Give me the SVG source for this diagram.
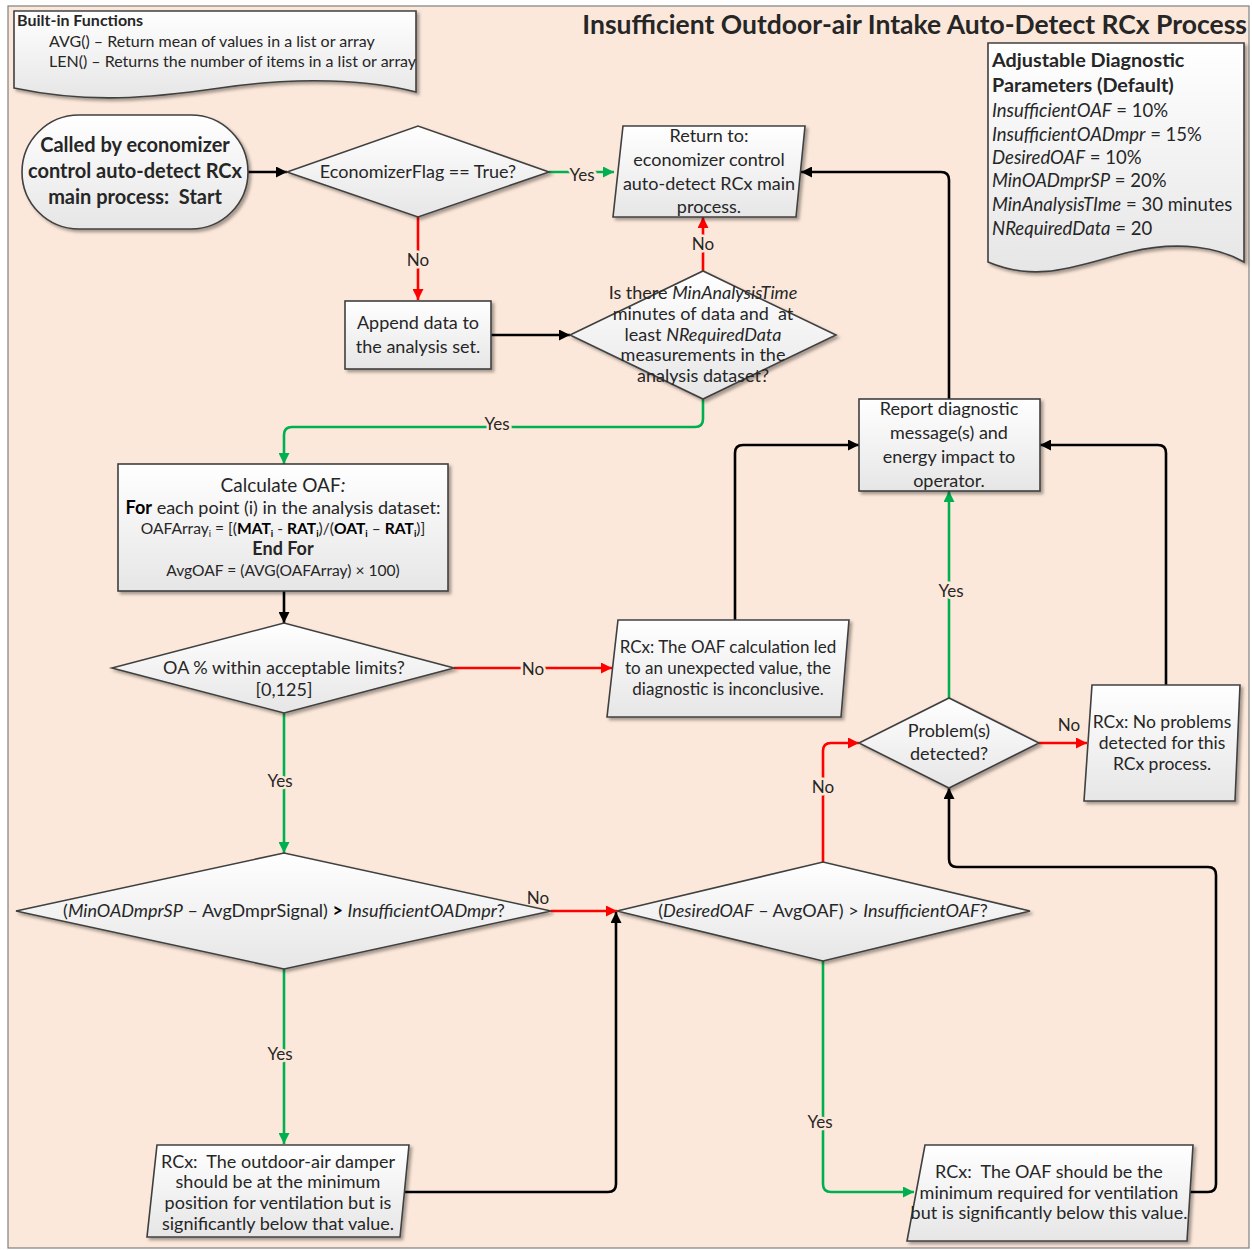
<svg xmlns="http://www.w3.org/2000/svg" width="1252" height="1250" viewBox="0 0 1252 1250">
  <style>
    text { font-family: Lato, "Open Sans", "Liberation Sans", sans-serif; fill: #262626; }
    .shape { fill: url(#shapeFill); stroke: #404040; stroke-width: 1.6; filter: url(#shadow); }
    .t { font-size: 18px; text-anchor: middle; }
    .b { font-weight: bold; }
    .i { font-style: italic; }
    .lbl { font-size: 17px; text-anchor: middle; paint-order: stroke; stroke: #FCE8DA; stroke-width: 5px; stroke-linejoin: round; }
    .c { fill: none; stroke-width: 2.6; stroke-linejoin: round; }
    .k { stroke: #000; marker-end: url(#arrK); }
    .r { stroke: #FF0000; marker-end: url(#arrR); }
    .g { stroke: #00B050; marker-end: url(#arrG); }
    .sub { font-size: 9.5px; }
  </style>
  <defs>
    <linearGradient id="shapeFill" x1="0" y1="0" x2="0" y2="1">
      <stop offset="0" stop-color="#FFFFFF"/>
      <stop offset="1" stop-color="#E6E6E6"/>
    </linearGradient>
    <filter id="shadow" x="-10%" y="-10%" width="125%" height="130%">
      <feDropShadow dx="2.5" dy="2.5" stdDeviation="1.5" flood-color="#000" flood-opacity="0.35"/>
    </filter>
    <marker id="arrK" viewBox="0 0 10 10" refX="10" refY="5" markerWidth="14" markerHeight="11" markerUnits="userSpaceOnUse" orient="auto">
      <path d="M0,0 L10,5 L0,10 z" fill="#000"/>
    </marker>
    <marker id="arrR" viewBox="0 0 10 10" refX="10" refY="5" markerWidth="14" markerHeight="11" markerUnits="userSpaceOnUse" orient="auto">
      <path d="M0,0 L10,5 L0,10 z" fill="#FF0000"/>
    </marker>
    <marker id="arrG" viewBox="0 0 10 10" refX="10" refY="5" markerWidth="14" markerHeight="11" markerUnits="userSpaceOnUse" orient="auto">
      <path d="M0,0 L10,5 L0,10 z" fill="#00B050"/>
    </marker>
  </defs>

  <!-- page background and frame -->
  <rect x="0" y="0" width="1252" height="1250" fill="#FFFFFF"/>
  <rect x="8" y="6" width="1241" height="1242" fill="#FCE8DA" stroke="#7F7F7F" stroke-width="1.2"/>

  <!-- title -->
  <text x="1247" y="34" font-size="26.5" font-weight="bold" text-anchor="end" fill="#000">Insufficient Outdoor-air Intake Auto-Detect RCx Process</text>

  <!-- built-in functions note -->
  <g id="builtins">
    <path class="shape" d="M14,11 H416 V92 C370,80 300,76 220,88 C150,98 90,104 14,88 Z"/>
    <text x="17" y="26" font-size="16" font-weight="bold" fill="#000">Built-in Functions</text>
    <text x="49" y="47" font-size="16">AVG() – Return mean of values in a list or array</text>
    <text x="49" y="67" font-size="16">LEN() – Returns the number of items in a list or array</text>
  </g>

  <!-- adjustable parameters note -->
  <g id="parameters">
    <path class="shape" d="M988,43 H1244 V262 C1220,248 1180,240 1130,252 C1080,264 1040,284 988,262 Z"/>
    <text x="992" y="67" font-size="19.8" font-weight="bold" fill="#000">Adjustable Diagnostic</text>
    <text x="992" y="92" font-size="19.8" font-weight="bold" fill="#000">Parameters (Default)</text>
    <text x="992" y="117" font-size="18.5"><tspan class="i">InsufficientOAF</tspan> = 10%</text>
    <text x="992" y="141" font-size="18.5"><tspan class="i">InsufficientOADmpr</tspan> = 15%</text>
    <text x="992" y="164" font-size="18.5"><tspan class="i">DesiredOAF</tspan> = 10%</text>
    <text x="992" y="187" font-size="18.5"><tspan class="i">MinOADmprSP</tspan> = 20%</text>
    <text x="992" y="211" font-size="18.5"><tspan class="i">MinAnalysisTIme</tspan> = 30 minutes</text>
    <text x="992" y="235" font-size="18.5"><tspan class="i">NRequiredData</tspan> = 20</text>
  </g>

  <!-- connectors -->
  <g id="connectors">
    <path class="c k" d="M248,172 H287"/>
    <path class="c g" d="M549,172 H614"/>
    <path class="c r" d="M418,217 V300"/>
    <path class="c k" d="M491,335 H570"/>
    <path class="c r" d="M703,271 V217"/>
    <path class="c g" d="M703,399 V419 Q703,427 695,427 H292 Q284,427 284,435 V464"/>
    <path class="c k" d="M284,591 V623"/>
    <path class="c r" d="M454,668 H612"/>
    <path class="c k" d="M735,620 V453 Q735,445 743,445 H859"/>
    <path class="c k" d="M949,399 V180 Q949,172 941,172 H801"/>
    <path class="c g" d="M284,713 V853"/>
    <path class="c r" d="M551,911 H617"/>
    <path class="c g" d="M284,969 V1144"/>
    <path class="c k" d="M403,1192 H608 Q616,1192 616,1184 V912"/>
    <path class="c r" d="M823,862 V751 Q823,743 831,743 H859"/>
    <path class="c g" d="M823,961 V1184 Q823,1192 831,1192 H914"/>
    <path class="c k" d="M1188,1192 H1208 Q1216,1192 1216,1184 V875 Q1216,867 1208,867 H957 Q949,867 949,859 V788"/>
    <path class="c g" d="M949,698 V491"/>
    <path class="c r" d="M1039,743 H1087"/>
    <path class="c k" d="M1166,685 V453 Q1166,445 1158,445 H1040"/>

    <text class="lbl" x="582" y="181">Yes</text>
    <text class="lbl" x="418" y="266">No</text>
    <text class="lbl" x="703" y="250">No</text>
    <text class="lbl" x="497" y="430">Yes</text>
    <text class="lbl" x="533" y="675">No</text>
    <text class="lbl" x="280" y="787">Yes</text>
    <text class="lbl" x="538" y="904">No</text>
    <text class="lbl" x="280" y="1060">Yes</text>
    <text class="lbl" x="823" y="793">No</text>
    <text class="lbl" x="820" y="1128">Yes</text>
    <text class="lbl" x="951" y="597">Yes</text>
    <text class="lbl" x="1069" y="731">No</text>
  </g>

  <!-- start terminator -->
  <g id="start">
    <rect class="shape" x="22" y="115" width="226" height="114" rx="57" ry="57"/>
    <text class="t b" x="135" y="152" style="font-size:20px" fill="#000">Called by economizer</text>
    <text class="t b" x="135" y="178" style="font-size:20px" fill="#000">control auto-detect RCx</text>
    <text class="t b" x="135" y="204" style="font-size:20px" fill="#000" xml:space="preserve">main process:  Start</text>
  </g>

  <g id="economizer-flag">
    <polygon class="shape" points="287,172 418,126 549,172 418,217"/>
    <text class="t" x="418" y="178">EconomizerFlag == True?</text>
  </g>

  <g id="return">
    <polygon class="shape" points="623,126 805,126 796,217 613,217"/>
    <text class="t" x="709" y="142">Return to:</text>
    <text class="t" x="709" y="166">economizer control</text>
    <text class="t" x="709" y="190">auto-detect RCx main</text>
    <text class="t" x="709" y="213">process.</text>
  </g>

  <g id="append-data">
    <rect class="shape" x="345" y="301" width="146" height="68"/>
    <text class="t" x="418" y="329">Append data to</text>
    <text class="t" x="418" y="353">the analysis set.</text>
  </g>

  <g id="data-sufficient">
    <polygon class="shape" points="570,335 703,271 836,335 703,399"/>
    <text class="t" x="703" y="299">Is there <tspan class="i">MinAnalysisTime</tspan></text>
    <text class="t" x="703" y="320" xml:space="preserve">minutes of data and  at</text>
    <text class="t" x="703" y="341">least <tspan class="i">NRequiredData</tspan></text>
    <text class="t" x="703" y="361">measurements in the</text>
    <text class="t" x="703" y="382">analysis dataset?</text>
  </g>

  <g id="calculate-oaf">
    <rect class="shape" x="118" y="464" width="330" height="127"/>
    <text class="t" x="283" y="492" style="font-size:19px">Calculate OAF<tspan class="i">:</tspan></text>
    <text class="t" x="283" y="514"><tspan class="b" fill="#000">For</tspan> each point (i) in the analysis dataset:</text>
    <text class="t" x="283" y="534" style="font-size:15.6px">OAFArray<tspan class="sub" dy="3">i</tspan><tspan dy="-3"> = [(</tspan><tspan class="b" fill="#000">MAT<tspan class="sub" dy="3">i</tspan></tspan><tspan dy="-3"> - </tspan><tspan class="b" fill="#000">RAT<tspan class="sub" dy="3">i</tspan></tspan><tspan dy="-3">)/(</tspan><tspan class="b" fill="#000">OAT<tspan class="sub" dy="3">i</tspan></tspan><tspan dy="-3"> – </tspan><tspan class="b" fill="#000">RAT<tspan class="sub" dy="3">i</tspan></tspan><tspan dy="-3">)]</tspan></text>
    <text class="t b" x="283" y="555" fill="#000">End For</text>
    <text class="t" x="283" y="576" style="font-size:15.6px">AvgOAF = (AVG(OAFArray) × 100)</text>
  </g>

  <g id="oa-limits">
    <polygon class="shape" points="112,668 284,623 454,668 284,713"/>
    <text class="t" x="284" y="674">OA % within acceptable limits?</text>
    <text class="t" x="284" y="696">[0,125]</text>
  </g>

  <g id="inconclusive">
    <polygon class="shape" points="618,620 849,620 841,717 607,717"/>
    <text class="t" x="728" y="653" style="font-size:17px">RCx: The OAF calculation led</text>
    <text class="t" x="728" y="674" style="font-size:17px">to an unexpected value, the</text>
    <text class="t" x="728" y="695" style="font-size:17px">diagnostic is inconclusive.</text>
  </g>

  <g id="report">
    <rect class="shape" x="859" y="399" width="181" height="92"/>
    <text class="t" x="949" y="415">Report diagnostic</text>
    <text class="t" x="949" y="439">message(s) and</text>
    <text class="t" x="949" y="463">energy impact to</text>
    <text class="t" x="949" y="487">operator.</text>
  </g>

  <g id="damper-check">
    <polygon class="shape" points="16,911 284,853 551,911 284,969"/>
    <text class="t" x="284" y="917">(<tspan class="i">MinOADmprSP</tspan> – AvgDmprSignal) <tspan class="b" fill="#000">&gt;</tspan> <tspan class="i">InsufficientOADmpr</tspan>?</text>
  </g>

  <g id="oaf-check">
    <polygon class="shape" points="617,911 823,862 1030,911 823,961"/>
    <text class="t" x="823" y="917">(<tspan class="i">DesiredOAF</tspan> – AvgOAF) &gt; <tspan class="i">InsufficientOAF</tspan>?</text>
  </g>

  <g id="problems-detected">
    <polygon class="shape" points="859,743 949,698 1039,743 949,788"/>
    <text class="t" x="949" y="737">Problem(s)</text>
    <text class="t" x="949" y="760">detected?</text>
  </g>

  <g id="no-problems">
    <polygon class="shape" points="1092,685 1240,685 1235,801 1084,801"/>
    <text class="t" x="1162" y="728" style="font-size:17.5px">RCx: No problems</text>
    <text class="t" x="1162" y="749" style="font-size:17.5px">detected for this</text>
    <text class="t" x="1162" y="770" style="font-size:17.5px">RCx process.</text>
  </g>

  <g id="damper-low">
    <polygon class="shape" points="157,1145 409,1145 400,1237 147,1237"/>
    <text class="t" x="278" y="1168" xml:space="preserve">RCx:  The outdoor-air damper</text>
    <text class="t" x="278" y="1188">should be at the minimum</text>
    <text class="t" x="278" y="1209">position for ventilation but is</text>
    <text class="t" x="278" y="1230">significantly below that value.</text>
  </g>

  <g id="oaf-low">
    <polygon class="shape" points="925,1145 1193,1145 1187,1241 907,1241"/>
    <text class="t" x="1049" y="1178" xml:space="preserve">RCx:  The OAF should be the</text>
    <text class="t" x="1049" y="1199">minimum required for ventilation</text>
    <text class="t" x="1049" y="1219">but is significantly below this value.</text>
  </g>
</svg>
